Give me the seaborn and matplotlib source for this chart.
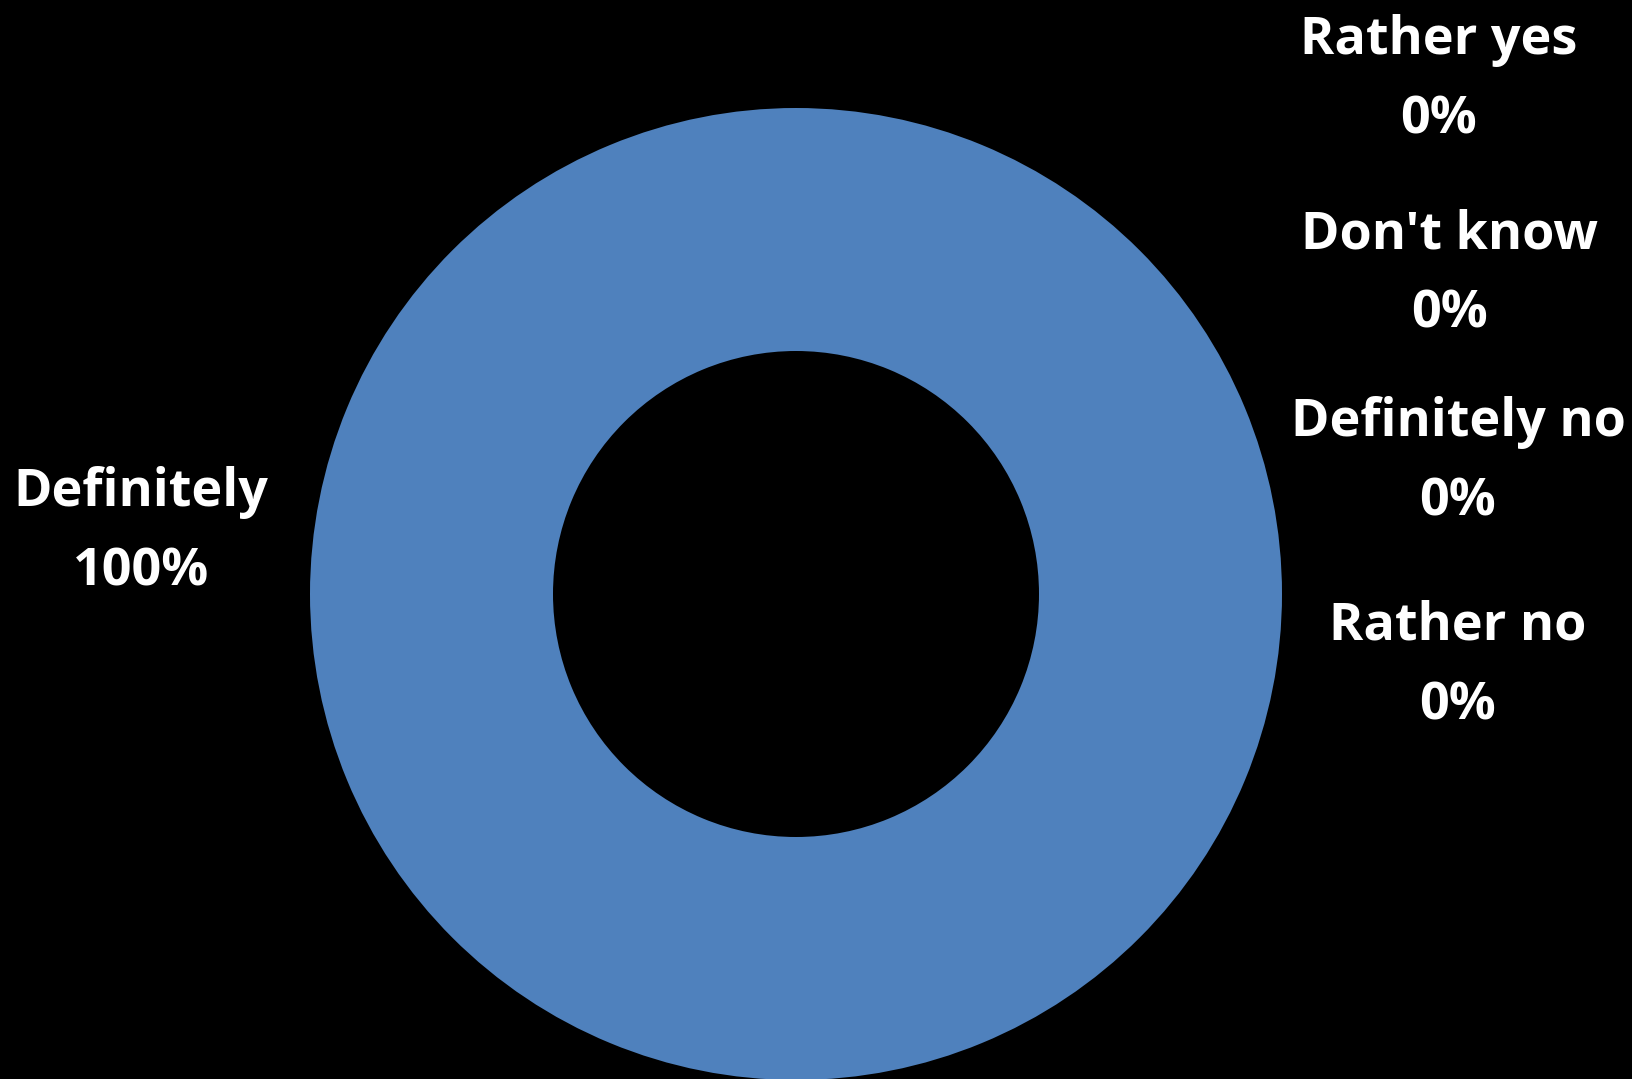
import matplotlib
matplotlib.use("Agg")
import matplotlib.pyplot as plt
import seaborn as sns

categories = ['Definitely', 'Rather yes', "Don't know", 'Definitely no', 'Rather no']
values = [100, 0, 0, 0, 0]
colors = ['#4F81BD', '#C0504D', '#9BBB59', '#8064A2', '#4BACC6']

# label anchor points (pixels from top-left), one per category
label_x = [141, 1439, 1450, 1458, 1458]
label_y = [532, 80, 274, 462, 666]

W, H = 1633, 1079

sns.set_style("white")
plt.rcParams['font.family'] = ['Open Sans', 'DejaVu Sans']

fig = plt.figure(figsize=(W / 100, H / 100), dpi=100, facecolor='black')
ax = fig.add_axes([0, 0, 1, 1])
ax.set_facecolor('black')

ax.pie(values, colors=colors, startangle=90, counterclock=False,
       center=(796, H - 594), radius=486,
       wedgeprops=dict(width=243, edgecolor='none'))

total = sum(values)
for cat, v, x, y in zip(categories, values, label_x, label_y):
    pct = round(100 * v / total)
    ax.text(x, H - y, f"{cat}\n{pct}%", color='white', fontsize=37.5,
            fontweight='bold', ha='center', va='center', linespacing=1.65)

ax.set_xlim(0, W)
ax.set_ylim(0, H)
ax.set_aspect('equal')
ax.axis('off')

fig.savefig('out.png', dpi=100, facecolor='black')
